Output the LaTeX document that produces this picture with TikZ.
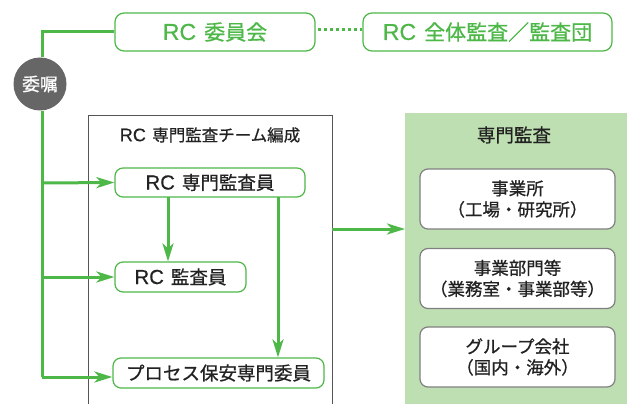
\documentclass[tikz,border=0pt]{standalone}
\usepackage{fontspec}
\setmainfont{Noto Sans CJK JP}[FakeBold=0.8]
\newfontfamily\latf{Liberation Sans}[Scale=1.1,FakeBold=0.5]
\newcommand\rcword{{\latf RC}\hspace{0.38em}}
\usetikzlibrary{arrows.meta}
\definecolor{grn}{HTML}{4DB848}
\definecolor{panelgreen}{HTML}{BEDFB2}
\definecolor{circgray}{HTML}{666666}
\definecolor{framegray}{HTML}{555555}
\definecolor{boxgray}{HTML}{808080}
\definecolor{txt}{HTML}{222222}
\begin{document}
\begin{tikzpicture}[x=1pt,y=-1pt,
  topbox/.style={draw=grn, line width=1.2pt, rounded corners=9pt, text=grn,
    font=\fontsize{21}{24}\selectfont, inner sep=0pt, fill=white},
  teambox/.style={draw=grn, line width=1.2pt, rounded corners=8pt, text=txt,
    font=\fontsize{18.5}{22}\selectfont, inner sep=0pt, fill=white, minimum height=29pt},
  unitbox/.style={draw=boxgray, line width=1.2pt, rounded corners=8pt, text=txt,
    font=\fontsize{17.5}{21}\selectfont, inner sep=0pt, fill=white, align=center,
    minimum width=195pt, minimum height=60pt},
  gline/.style={draw=grn, line width=3pt},
  garrow/.style={gline, -{Stealth[length=18pt,width=11pt,inset=5pt]}},
]
\useasboundingbox (0,0) rectangle (627,404);

% green panel
\fill[panelgreen] (405,113) rectangle (627,404);
\node[text=txt, font=\fontsize{18.5}{22}\selectfont] (pt) at (514,135) {専門監査};
\node[unitbox] (u1) at (517.5,199) {事業所\\（工場・研究所）};
\node[unitbox] (u2) at (517.5,278.5) {事業部門等\\（業務室・事業部等）};
\node[unitbox] (u3) at (517.5,357) {グループ会社\\（国内・海外）};
\coordinate (panelL) at (405,229);

% team frame
\draw[framegray, line width=1pt] (88,404) -- (88,115) -- (332,115) -- (332,404);
\coordinate (teamR) at (332,229);
\node[text=txt, font=\fontsize{16.5}{20}\selectfont] (tt) at (210,135) {\rcword 専門監査チーム編成};

% top boxes
\node[topbox, minimum width=200pt, minimum height=38pt] (com) at (215,32) {\rcword 委員会};
\node[topbox, minimum width=249pt, minimum height=38pt] (all) at (487.5,32) {\rcword 全体監査／監査団};
\coordinate (d1) at (318,30);
\coordinate (d2) at (362,30);
\draw[grn, line width=3pt, dash pattern=on 3pt off 3pt] (d1) -- (d2);

% team boxes
\node[teambox, minimum width=190pt] (spec) at (210,182.5) {\rcword 専門監査員};
\node[teambox, minimum width=131pt, minimum height=30pt] (aud) at (180.5,277) {\rcword 監査員};
\node[teambox, minimum width=211pt, minimum height=30pt] (proc) at (218.5,373) {プロセス保安専門委員};

% circle
\node[circle, fill=circgray, minimum size=53pt, inner sep=0pt, text=white,
  font=\fontsize{18}{20}\selectfont] (irai) at (40,84) {委嘱};

% connectors
\coordinate (corner) at (42,32);
\coordinate (bot) at (42,377);
\draw[gline] (com.west) -- (corner) -- (irai.north -| corner);
\draw[gline] (irai.south -| corner) -- (bot);
\draw[garrow] (42,183) -- (spec.west);
\draw[garrow] (42,277) -- (aud.west);
\draw[garrow] (bot) -- (proc.west |- bot);
\coordinate (s1) at (168,197);
\draw[garrow] (s1) -- (s1 |- aud.north);
\coordinate (s2) at (278,197);
\draw[garrow] (s2) -- (s2 |- proc.north);
\draw[garrow] (teamR) -- (panelL);
\end{tikzpicture}
\end{document}
